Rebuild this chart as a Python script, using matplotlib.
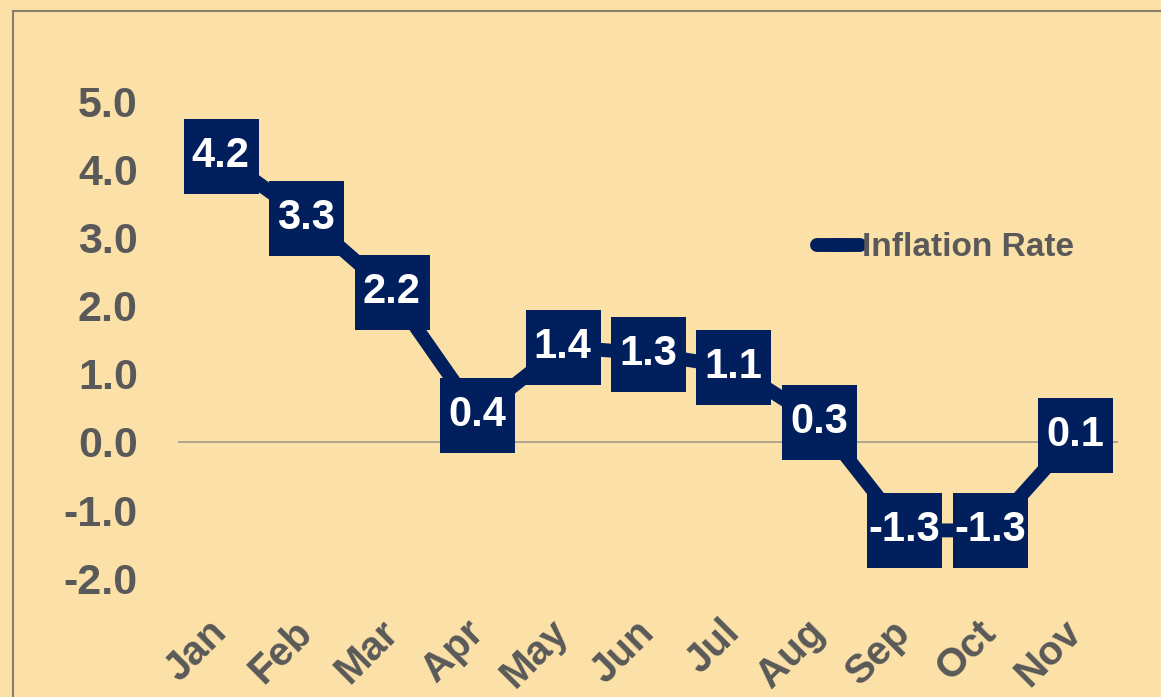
import matplotlib
matplotlib.use("Agg")
import matplotlib.pyplot as plt
from matplotlib.lines import Line2D
from matplotlib.patches import Rectangle

months = ["Jan", "Feb", "Mar", "Apr", "May", "Jun", "Jul", "Aug", "Sep", "Oct", "Nov"]
inflation = [4.2, 3.3, 2.2, 0.4, 1.4, 1.3, 1.1, 0.3, -1.3, -1.3, 0.1]
yticks = [-2.0, -1.0, 0.0, 1.0, 2.0, 3.0, 4.0, 5.0]

navy = "#001F5C"
gray = "#595959"
bg = "#FBE0A8"

plt.rcParams["font.family"] = ["Liberation Sans", "DejaVu Sans"]
plt.rcParams["font.weight"] = "bold"
plt.rcParams["axes.unicode_minus"] = False

W, H = 1161, 697
fig = plt.figure(figsize=(W / 100, H / 100), dpi=100, facecolor=bg)

# outer frame (runs off the right and bottom edges)
fig.patches.append(Rectangle((13 / W, -0.1), 1.2, 1 - 11 / H + 0.1, transform=fig.transFigure,
                             fill=False, edgecolor="#8A7E68", linewidth=1.5))

ax = fig.add_axes([178 / W, (H - 578) / H, (1118 - 178) / W, (578 - 102) / H])
ax.set_facecolor("none")

x = list(range(len(months)))
ax.plot(x, inflation, color=navy, linewidth=10, marker="s", markersize=54,
        markerfacecolor=navy, markeredgewidth=0, clip_on=False, zorder=3)
for xi, v in zip(x, inflation):
    ax.text(xi, v, f"{v:.1f}", color="white", fontsize=30, fontweight="bold",
            ha="center", va="center", zorder=4, clip_on=False)

ax.axhline(0, color="#A39C8C", linewidth=1.2, zorder=1)

ax.set_xlim(-0.5, len(months) - 0.5)
ax.set_ylim(-2.0, 5.0)
ax.set_yticks(yticks)
ax.set_yticklabels([f"{t:.1f}" for t in yticks], fontsize=31, color=gray, fontweight="bold")
ax.set_xticks(x)
ax.set_xticklabels(months, fontsize=29, color=gray, fontweight="bold",
                   rotation=45, ha="right", va="center", rotation_mode="anchor")
ax.tick_params(axis="y", length=0, pad=29)
ax.tick_params(axis="x", length=0, pad=35)
for s in ax.spines.values():
    s.set_visible(False)

handle = Line2D([], [], color=navy, linewidth=10, solid_capstyle="round",
                marker="s", markersize=10, markeredgewidth=0)
ax.legend([handle], ["Inflation Rate"], loc="center left", frameon=False,
          bbox_to_anchor=(800 / W, (H - 248) / H), bbox_transform=fig.transFigure,
          borderpad=0, handlelength=1.3, handletextpad=0.05,
          prop={"size": 24, "weight": "bold"}, labelcolor=gray)

fig.savefig("out.png", dpi=100, facecolor=bg)
